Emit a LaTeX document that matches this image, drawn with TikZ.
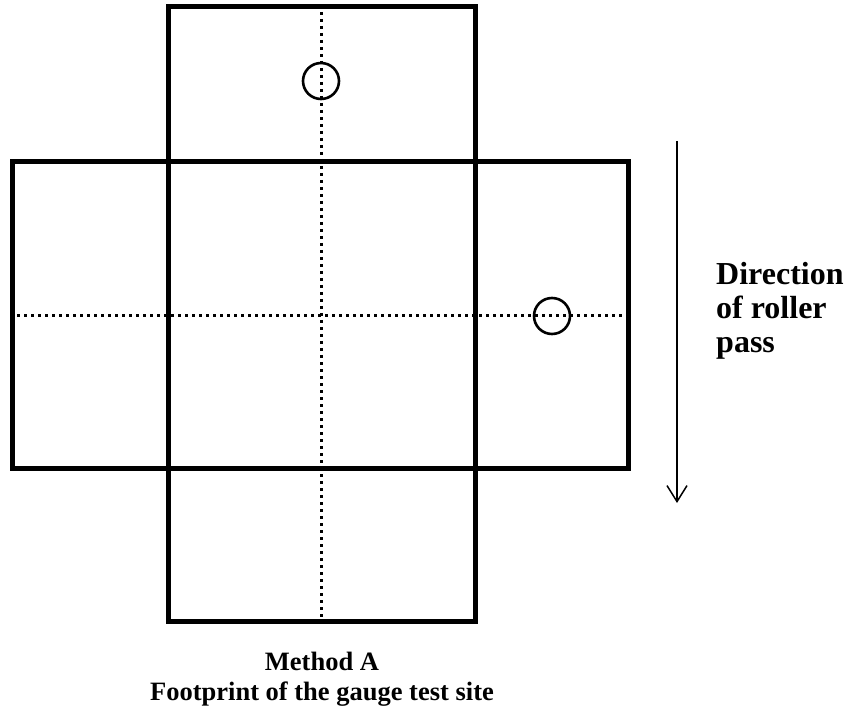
\documentclass[tikz,border=0pt]{standalone}
\usepackage{fontspec}
\setmainfont{Liberation Serif}
\usetikzlibrary{arrows.meta}
\begin{document}
\begin{tikzpicture}[x=1pt,y=-1pt,
  box/.style={line width=5pt, line join=miter},
  axisdots/.style={line width=3pt, dash pattern=on 3pt off 4pt},
  spot/.style={draw, circle, line width=2.6pt, minimum size=36pt, inner sep=0pt},
  lbl/.style={font=\bfseries, align=left, inner sep=0pt}]
\useasboundingbox (0,0) rectangle (848,708);
\fill[white] (0,0) rectangle (848,708);
% dotted centre lines
\coordinate (vt) at (321,12);
\coordinate (vb) at (321,617);
\coordinate (hl) at (17,316);
\coordinate (hr) at (626,316);
\draw[axisdots] (vt) -- (vb);
\draw[axisdots] (hl) -- (hr);
% rectangles
\draw[box] (168,7) rectangle (475,162);
\draw[box] (12,162) rectangle (628,468);
\draw[box] (168,162) -- (168,468);
\draw[box] (475,162) -- (475,468);
\draw[box] (168,468) rectangle (475,621);
% circles
\node[spot] (c1) at (321,81) {};
\node[spot] (c2) at (552,316) {};
% arrow
\coordinate (as) at (677,141);
\coordinate (ae) at (677,503);
\draw[line width=1.5pt, -{Straight Barb[length=16pt,width=20pt,line width=1.5pt]}] (as) -- (ae);
% labels
\node[lbl, anchor=west, font=\fontsize{32}{34}\selectfont\bfseries] (dir) at (716,311) {Direction\\of roller\\pass};
\node[lbl, align=center, font=\fontsize{26.5}{30}\selectfont\bfseries] (cap) at (322,679) {Method A\\Footprint of the gauge test site};
\end{tikzpicture}
\end{document}
